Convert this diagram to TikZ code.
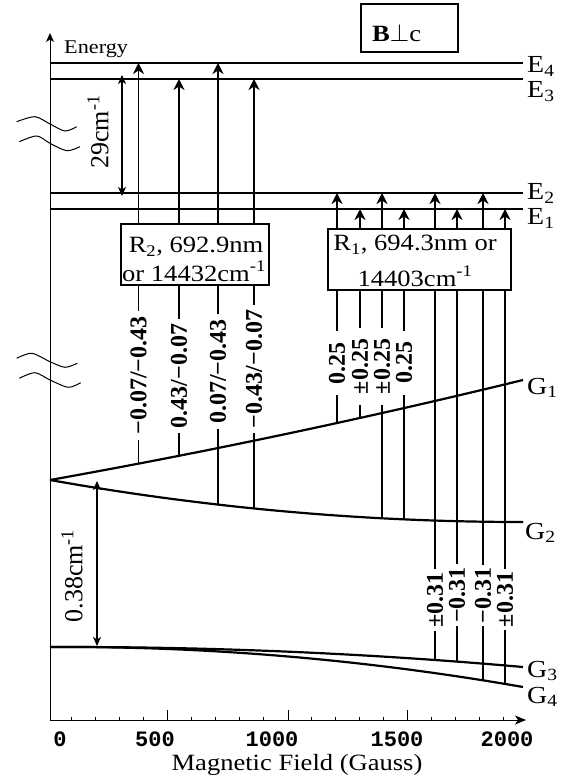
\documentclass[tikz,border=0pt]{standalone}
\usepackage{fontspec}
\setmainfont{Liberation Serif}[FakeStretch=1.14]
\newfontfamily\plainserif{Liberation Serif}
\newfontfamily\tickfont{Liberation Mono}
\usetikzlibrary{arrows.meta}
\tikzset{
  axisline/.style={line width=1pt},
  lvl/.style={line width=2.2pt},
  curve/.style={line width=2.2pt},
  trans/.style={line width=1.9pt},
  tarrow/.style={trans, -{Stealth[length=11pt,width=11pt,inset=3.5pt]}},
  dbl/.style={line width=1.3pt, {Stealth[length=9pt,width=8pt,inset=2.5pt]}-{Stealth[length=9pt,width=8pt,inset=2.5pt]}},
  brk/.style={line width=1pt},
  txt/.style={inner sep=0pt, font=\fontsize{23.3}{28}\selectfont},
  lvllab/.style={inner sep=0pt, anchor=base west, font=\fontsize{24.5}{24.5}\selectfont},
  rotlab/.style={rotate=90, fill=white, inner ysep=1pt, font=\plainserif\bfseries\fontsize{24}{24}\selectfont},
  rotreg/.style={rotate=90, inner sep=0pt, font=\plainserif\fontsize{26}{26}\selectfont},
  tick/.style={inner sep=0pt, anchor=base, font=\tickfont\bfseries\fontsize{22}{22}\selectfont},
  boxst/.style={draw, fill=white, line width=1.3pt},
}
\begin{document}
\begin{tikzpicture}[x=1pt,y=-1pt]
\useasboundingbox (0,0) rectangle (573,783);

% break marks
\draw[brk] plot[smooth] coordinates {(16.7,121.7) (35,116.7) (50,124) (65,131) (76.7,126.7)};
\draw[brk] plot[smooth] coordinates {(19.3,141.7) (36.7,136) (50,143.3) (66.7,150.7) (80,146.7)};
\draw[brk] plot[smooth] coordinates {(16.7,358.3) (31.7,353.3) (50,361.7) (65,367.3) (77.3,363.3)};
\draw[brk] plot[smooth] coordinates {(19.3,378.3) (35,372.7) (50,380) (68.3,387.3) (80.7,382.7)};

% axes
\coordinate (O) at (50,720);
\coordinate (ytop) at (50,33);
\coordinate (xend) at (526,720);
\draw[axisline, -{Stealth[length=9pt,width=8pt,inset=2.5pt]}] (O) -- (ytop);
\draw[axisline, -{Stealth[length=11pt,width=9pt,inset=3pt]}] (O) -- (xend);
\foreach \k in {1,2,3,4,6,7,8,9,11,12,13,14,16,17,18,19}
  \draw[line width=0.8pt] (47+24*\k,720) -- ++(0,-3);
\foreach \x in {167,288,407}
  \draw[line width=1pt] (\x,720) -- ++(0,-10);

\node[tick] (t0) at (60,746) {0};
\node[tick] (t500) at (155,746) {500};
\node[tick] (t1000) at (272,746) {1000};
\node[tick] (t1500) at (397,746) {1500};
\node[tick] (t2000) at (507,746) {2000};
\node[txt, anchor=base] (xlab) at (297,770) {Magnetic Field (Gauss)};
\node[inner sep=0pt, anchor=base west, font=\fontsize{19.5}{20}\selectfont] (energy) at (64,54) {Energy};

% excited levels
\draw[lvl] (50,63) -- (523,63);
\draw[lvl] (50,79) -- (523,79);
\draw[lvl] (50,193) -- (523,193);
\draw[lvl] (50,209) -- (523,209);
\node[lvllab] (E4) at (527,73) {E\textsubscript{4}};
\node[lvllab] (E3) at (527,98) {E\textsubscript{3}};
\node[lvllab] (E2) at (527,200) {E\textsubscript{2}};
\node[lvllab] (E1) at (527,225) {E\textsubscript{1}};

% ground levels
\draw[curve] (50,480) .. controls (207.7,451.8) and (365.3,418.5) .. (523,380);
\draw[curve] (50,480) .. controls (207.7,508.1) and (365.3,522) .. (523,522);
\draw[curve] (50,647) .. controls (207.7,646.5) and (365.3,653.1) .. (523,667);
\draw[curve] (50,647) .. controls (207.7,646.1) and (365.3,659.5) .. (523,687);
\node[lvllab] (G1) at (527,394) {G\textsubscript{1}};
\node[lvllab] (G2) at (525,539) {G\textsubscript{2}};
\node[lvllab] (G3) at (527,677) {G\textsubscript{3}};
\node[lvllab] (G4) at (527,703) {G\textsubscript{4}};

% splittings
\draw[dbl] (122,75) -- (122,196);
\node[rotreg] (s29) at (98,132) {29cm\textsuperscript{-1}};
\draw[dbl] (97,481) -- (97,646);
\node[rotreg] (s038) at (72,576) {0.38cm\textsuperscript{-1}};

% R2 transitions
\draw[tarrow] (138.5,463.7) -- (138.5,63);
\draw[tarrow] (179,455.8) -- (179,79);
\draw[tarrow] (218,504.6) -- (218,63);
\draw[tarrow] (254,508.5) -- (254,79);

% R1 transitions
\draw[tarrow] (337,423) -- (337,193);
\draw[tarrow] (360,417.9) -- (360,209);
\draw[tarrow] (382,518.3) -- (382,193);
\draw[tarrow] (404,519.4) -- (404,209);
\draw[tarrow] (435,660) -- (435,193);
\draw[tarrow] (457,661.6) -- (457,209);
\draw[tarrow] (483,680.3) -- (483,193);
\draw[tarrow] (505,683.9) -- (505,209);

% labels on R2 lines
\node[rotlab, inner xsep=5pt] (a1) at (138.5,375.5) {−0.07/−0.43};
\node[rotlab, inner xsep=5pt] (a2) at (179,376) {0.43/−0.07};
\node[rotlab, inner xsep=5pt] (a3) at (218,371.5) {0.07/−0.43};
\node[rotlab, inner xsep=5pt] (a4) at (254,369) {−0.43/−0.07};

% labels on R1 lines
\node[rotlab, inner xsep=11pt] (b1) at (337,363) {0.25};
\node[rotlab, inner xsep=11pt] (b2) at (360,366.5) {±0.25};
\node[rotlab, inner xsep=11pt] (b3) at (382,366.5) {±0.25};
\node[rotlab, inner xsep=11pt] (b4) at (404,362.5) {0.25};
\node[rotlab, inner xsep=3pt] (c1) at (435,600) {±0.31};
\node[rotlab, inner xsep=3pt] (c2) at (457,595) {−0.31};
\node[rotlab, inner xsep=3pt] (c3) at (483,595.5) {−0.31};
\node[rotlab, inner xsep=3pt] (c4) at (505,599.5) {±0.31};

% boxes
\draw[boxst] (121,224) rectangle (269,285);
\node[txt, anchor=base] (r2a) at (196,253) {R\textsubscript{2}, 692.9nm};
\node[txt, anchor=base] (r2b) at (194,281) {or 14432cm\textsuperscript{-1}};

\draw[boxst] (328,229) rectangle (511,290);
\node[txt, anchor=base] (r1a) at (415,251) {R\textsubscript{1}, 694.3nm or};
\node[txt, anchor=base] (r1b) at (415,286) {14403cm\textsuperscript{-1}};

\draw[boxst] (361,4) rectangle (458,52);
\node[txt, anchor=base west] (bc) at (372,42) {\textbf{B}$\perp$c};
\end{tikzpicture}
\end{document}
